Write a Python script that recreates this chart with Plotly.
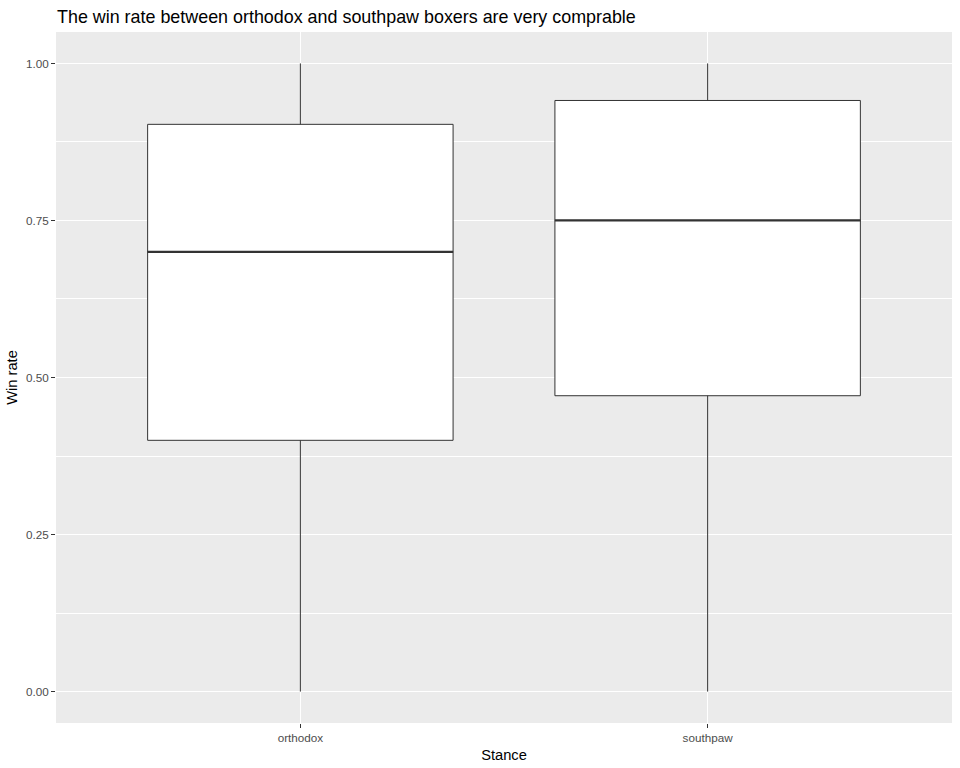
import plotly.graph_objects as go

categories = ["orthodox", "southpaw"]
lower = [0.0, 0.0]
q1 = [0.40, 0.471]
median = [0.70, 0.75]
q3 = [0.903, 0.941]
upper = [1.0, 1.0]
y_ticks = [0.0, 0.25, 0.50, 0.75, 1.00]
y_tick_labels = ["0.00", "0.25", "0.50", "0.75", "1.00"]

BOX_W = 0.75
positions = list(range(1, len(categories) + 1))

fig = go.Figure()
for i, cat in enumerate(categories):
    fig.add_trace(go.Box(
        x=[positions[i]], q1=[q1[i]], median=[median[i]], q3=[q3[i]],
        lowerfence=[lower[i]], upperfence=[upper[i]],
        width=BOX_W, whiskerwidth=0,
        fillcolor="white", line=dict(color="#333333", width=1),
        boxpoints=False, showlegend=False, name=cat, hoverinfo="skip",
    ))
    fig.add_trace(go.Scatter(
        x=[positions[i] - BOX_W / 2, positions[i] + BOX_W / 2],
        y=[median[i], median[i]], mode="lines",
        line=dict(color="#333333", width=2.2), showlegend=False, hoverinfo="skip",
    ))

minor_vals = [(y_ticks[k] + y_ticks[k + 1]) / 2 for k in range(len(y_ticks) - 1)]

fig.update_layout(
    width=960, height=768,
    margin=dict(l=56, r=8, t=32, b=45),
    paper_bgcolor="white", plot_bgcolor="#EBEBEB",
    font=dict(family="Liberation Sans, Arial, sans-serif", color="black"),
    title=dict(text="The win rate between orthodox and southpaw boxers are very comprable",
               x=57 / 960, xanchor="left", y=1 - 17 / 768, yanchor="middle",
               font=dict(size=17.9, color="black")),
    xaxis=dict(range=[0.4, 2.6], tickvals=positions, ticktext=categories,
               showgrid=True, gridcolor="white", gridwidth=1.1, zeroline=False,
               ticks="outside", ticklen=4, tickcolor="#333333", tickwidth=1,
               tickfont=dict(size=11.7, color="#4D4D4D"),
               title=dict(text="Stance", font=dict(size=14.7, color="black"), standoff=6)),
    yaxis=dict(range=[-0.05, 1.05], tickvals=y_ticks, ticktext=y_tick_labels,
               showgrid=True, gridcolor="white", gridwidth=1.1, zeroline=False,
               ticks="outside", ticklen=4, tickcolor="#333333", tickwidth=1,
               tickfont=dict(size=11.7, color="#4D4D4D"),
               minor=dict(tickvals=minor_vals, showgrid=True, gridcolor="white", gridwidth=0.55, ticks=""),
               title=dict(text="Win rate", font=dict(size=14.7, color="black"), standoff=4)),
)

fig.write_html("out.html")
